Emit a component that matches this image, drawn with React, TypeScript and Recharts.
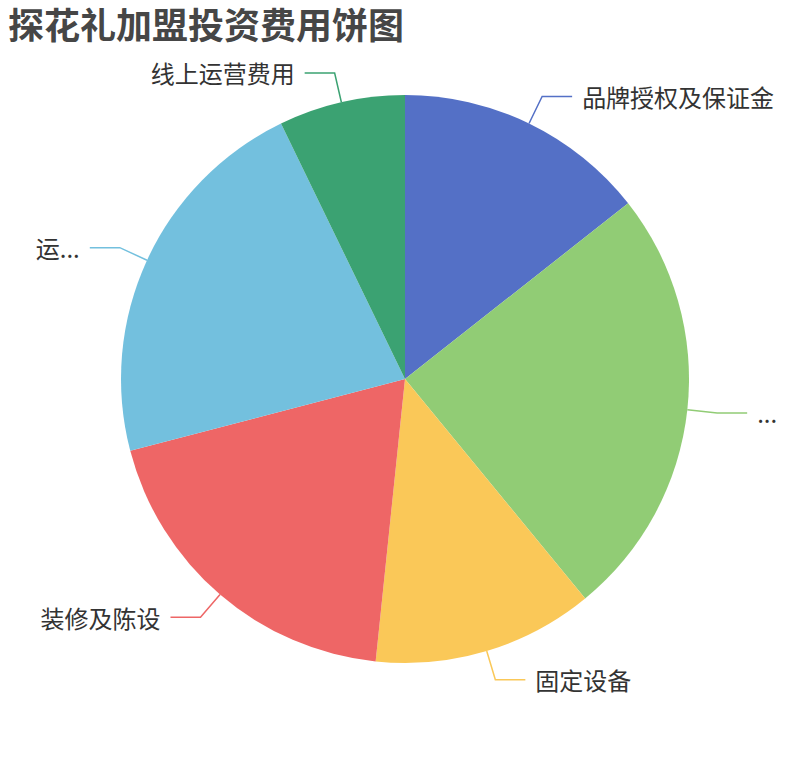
import React from "react";
import { PieChart, Pie, Cell } from "recharts";

const TITLE = "探花礼加盟投资费用饼图";
const categories = ["品牌授权及保证金", "...", "固定设备", "装修及陈设", "运...", "线上运营费用"];
const values = [14.4, 24.7, 12.6, 19.3, 21.9, 7.2];
const colors = ["#5470c6", "#91cc75", "#fac858", "#ee6666", "#73c0de", "#3ba272"];

const data = categories.map((name, i) => ({ name, value: values[i] }));

const RADIAN = Math.PI / 180;
const FONT = '"Noto Sans CJK SC", "Noto Sans", sans-serif';

const renderLabel = (props: any) => {
  const { cx, cy, midAngle, outerRadius, index, name } = props;
  const cos = Math.cos(-midAngle * RADIAN);
  const sin = Math.sin(-midAngle * RADIAN);
  const x0 = cx + outerRadius * cos;
  const y0 = cy + outerRadius * sin;
  const x1 = cx + (outerRadius + 30) * cos;
  const y1 = cy + (outerRadius + 30) * sin;
  const dir = cos >= 0 ? 1 : -1;
  const x2 = x1 + dir * 30;
  const color = colors[index % colors.length];
  return (
    <g key={`lbl-${index}`}>
      <polyline
        points={`${x0},${y0} ${x1},${y1} ${x2},${y1}`}
        fill="none"
        stroke={color}
        strokeWidth={1.5}
      />
      <text
        x={x2 + dir * 10}
        y={y1}
        textAnchor={dir > 0 ? "start" : "end"}
        dominantBaseline="central"
        fill="#333"
        fontSize={24}
        fontFamily={FONT}
      >
        {name}
      </text>
    </g>
  );
};

export default function App() {
  return (
    <div style={{ position: "absolute", left: 0, top: 0, width: 810, height: 760, background: "#fff" }}>
      <PieChart width={810} height={760} margin={{ top: 0, right: 0, bottom: 0, left: 0 }}>
        <Pie
          data={data}
          dataKey="value"
          nameKey="name"
          cx={405}
          cy={379}
          outerRadius={284}
          startAngle={90}
          endAngle={-270}
          stroke="none"
          label={renderLabel}
          labelLine={false}
          isAnimationActive={false}
        >
          {data.map((d, i) => (
            <Cell key={d.name + i} fill={colors[i]} />
          ))}
        </Pie>
      </PieChart>
      <div
        style={{
          position: "absolute",
          left: 8,
          top: 5,
          lineHeight: "36px",
          fontSize: 36,
          fontWeight: "bold",
          color: "#464646",
          fontFamily: FONT,
          whiteSpace: "nowrap",
          pointerEvents: "none",
        }}
      >
        {TITLE}
      </div>
    </div>
  );
}
